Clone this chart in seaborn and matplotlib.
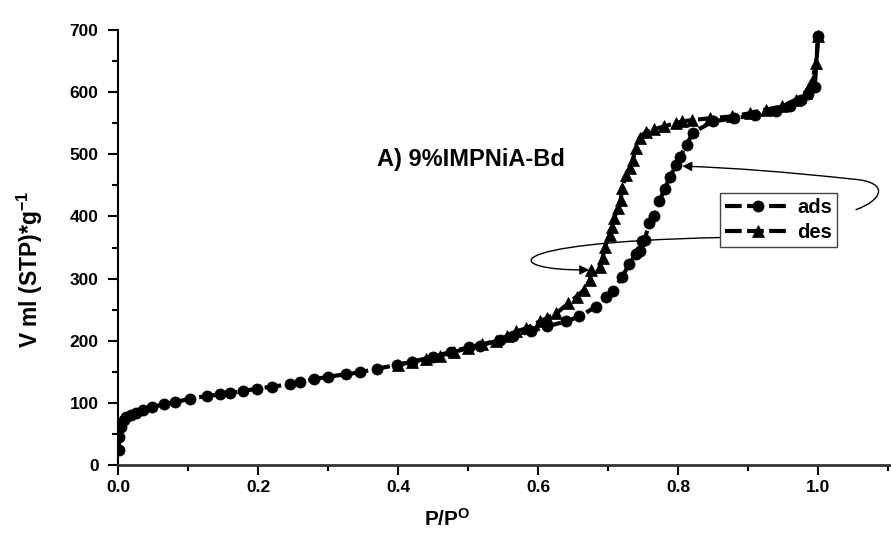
import numpy as np
import pandas as pd
import matplotlib
matplotlib.use("Agg")
import matplotlib.pyplot as plt
from matplotlib.path import Path
from matplotlib.patches import FancyArrowPatch
from matplotlib.ticker import MultipleLocator, FixedLocator
import seaborn as sns

# Nitrogen isotherm, adsorption branch (relative pressure, uptake)
ads_p = [0.001, 0.002, 0.004, 0.008, 0.012, 0.018, 0.025, 0.036, 0.049, 0.065,
         0.082, 0.103, 0.127, 0.146, 0.160, 0.179, 0.199, 0.220, 0.246, 0.260,
         0.280, 0.300, 0.325, 0.345, 0.370, 0.398, 0.420, 0.450, 0.475, 0.502,
         0.517, 0.545, 0.564, 0.590, 0.612, 0.640, 0.659, 0.683, 0.697, 0.707,
         0.720, 0.730, 0.740, 0.745, 0.749, 0.752, 0.759, 0.766, 0.773, 0.781,
         0.788, 0.797, 0.802, 0.812, 0.821, 0.850, 0.880, 0.910, 0.940, 0.960,
         0.975, 0.985, 0.995, 1.000]
ads_v = [24, 45, 61, 72, 77, 80, 84, 89, 93, 98,
         101, 107, 111, 114, 116, 119, 123, 126, 130, 134,
         138, 142, 146, 149, 155, 161, 166, 174, 182, 190,
         192, 201, 207, 215, 223, 231, 239, 255, 271, 280,
         303, 323, 340, 345, 360, 362, 390, 400, 425, 444,
         463, 483, 495, 515, 535, 553, 558, 563, 570, 578,
         588, 597, 608, 690]

# Desorption branch
des_p = [1.000, 0.997, 0.992, 0.982, 0.968, 0.949, 0.925, 0.902, 0.877, 0.845,
         0.820, 0.806, 0.797, 0.780, 0.765, 0.754, 0.745, 0.740, 0.735, 0.731,
         0.726, 0.720, 0.718, 0.714, 0.709, 0.705, 0.702, 0.695, 0.692, 0.688,
         0.676, 0.674, 0.666, 0.655, 0.643, 0.626, 0.612, 0.602, 0.583, 0.569,
         0.555, 0.540, 0.520, 0.500, 0.480, 0.460, 0.440, 0.420, 0.400]
des_v = [690, 647, 620, 599, 588, 577, 572, 566, 561, 558,
         555, 553, 550, 545, 540, 536, 527, 510, 491, 478,
         467, 446, 427, 414, 398, 383, 370, 351, 333, 319,
         314, 298, 282, 271, 260, 244, 236, 231, 220, 215,
         207, 200, 194, 188, 182, 176, 171, 166, 161]

x_ticks = [0.0, 0.2, 0.4, 0.6, 0.8, 1.0]
y_ticks = [0, 100, 200, 300, 400, 500, 600, 700]

sns.set_style("ticks")
plt.rcParams["font.family"] = ["Liberation Sans", "DejaVu Sans"]
plt.rcParams["font.weight"] = "bold"
plt.rcParams["mathtext.default"] = "regular"
for key in ("text.color", "axes.labelcolor", "xtick.color", "ytick.color",
            "xtick.labelcolor", "ytick.labelcolor"):
    plt.rcParams[key] = "black"

ads_df = pd.DataFrame({"p": ads_p, "v": ads_v})
des_df = pd.DataFrame({"p": des_p, "v": des_v})

fig = plt.figure(figsize=(8.91, 5.41), dpi=100)
ax = fig.add_axes([118 / 891, 76 / 541, (891 - 118) / 891, (465 - 30) / 541])

dash = (0, (4.0, 1.3))
sns.lineplot(data=ads_df, x="p", y="v", ax=ax, sort=False, estimator=None,
             color="black", lw=3, linestyle=dash, marker="o", markersize=8,
             markeredgecolor="black", markerfacecolor="black",
             markeredgewidth=0.5, label="ads")
sns.lineplot(data=des_df, x="p", y="v", ax=ax, sort=False, estimator=None,
             color="black", lw=3, linestyle=dash, marker="^", markersize=9,
             markeredgecolor="black", markerfacecolor="black",
             markeredgewidth=0.5, label="des")

ax.set_xlim(0, 1.104)
ax.set_ylim(0, 700)
ax.xaxis.set_major_locator(FixedLocator(x_ticks))
ax.xaxis.set_minor_locator(MultipleLocator(0.1))
ax.yaxis.set_major_locator(FixedLocator(y_ticks))
ax.yaxis.set_minor_locator(MultipleLocator(50))
ax.set_xticklabels([f"{t:.1f}" for t in x_ticks])
ax.set_yticklabels([str(t) for t in y_ticks])
ax.tick_params(which="major", direction="out", length=7, width=1.5,
               labelsize=12.5, color="black")
ax.tick_params(axis="y", which="major", pad=7)
ax.tick_params(axis="x", which="major", pad=4)
ax.tick_params(which="minor", direction="out", length=4, width=1.5,
               color="black")
for lab in ax.get_xticklabels() + ax.get_yticklabels():
    lab.set_fontweight("bold")

for side in ("top", "right"):
    ax.spines[side].set_visible(False)
ax.spines["left"].set_linewidth(1.5)
ax.spines["bottom"].set_linewidth(2.0)
ax.spines["left"].set_color("black")
ax.spines["bottom"].set_color("#333333")

ax.set_xlabel(r"P/P$^{\mathregular{O}}$", fontsize=15, fontweight="bold")
ax.set_ylabel(r"V ml (STP)*g$^{\mathregular{-1}}$", fontsize=16.5,
              fontweight="bold")
ax.xaxis.set_label_coords((447 - 118) / 773, -0.098)
ax.yaxis.set_label_coords(-0.094, 0.45)

ax.text(0.504, 492, "A) 9%IMPNiA-Bd", fontsize=17, fontweight="bold",
        ha="center", va="center")

leg = ax.legend(loc="upper left", bbox_to_anchor=(720 / 891, 1 - 193 / 541),
                bbox_transform=fig.transFigure, borderaxespad=0,
                fontsize=14.5, handlelength=3.3, handletextpad=0.3,
                borderpad=0.25, labelspacing=0.3, frameon=True,
                fancybox=False, framealpha=1, edgecolor="#444444")
leg.get_frame().set_linewidth(1.0)
for t in leg.get_texts():
    t.set_fontweight("bold")

# Callout curves tying each legend entry to its branch
ads_path = Path([(1.054, 411), (1.09, 425), (1.105, 455), (1.05, 460),
                 (0.95, 472), (0.88, 478), (0.806, 481)],
                [Path.MOVETO, Path.CURVE4, Path.CURVE4, Path.CURVE4,
                 Path.CURVE4, Path.CURVE4, Path.CURVE4])
des_path = Path([(0.859, 366), (0.53, 358), (0.55, 312), (0.673, 314)],
                [Path.MOVETO, Path.CURVE4, Path.CURVE4, Path.CURVE4])
for pth in (ads_path, des_path):
    ax.add_patch(FancyArrowPatch(path=pth, arrowstyle="-|>",
                                 mutation_scale=14, lw=1.0, color="black",
                                 zorder=4))

fig.savefig("out.png", dpi=100)
